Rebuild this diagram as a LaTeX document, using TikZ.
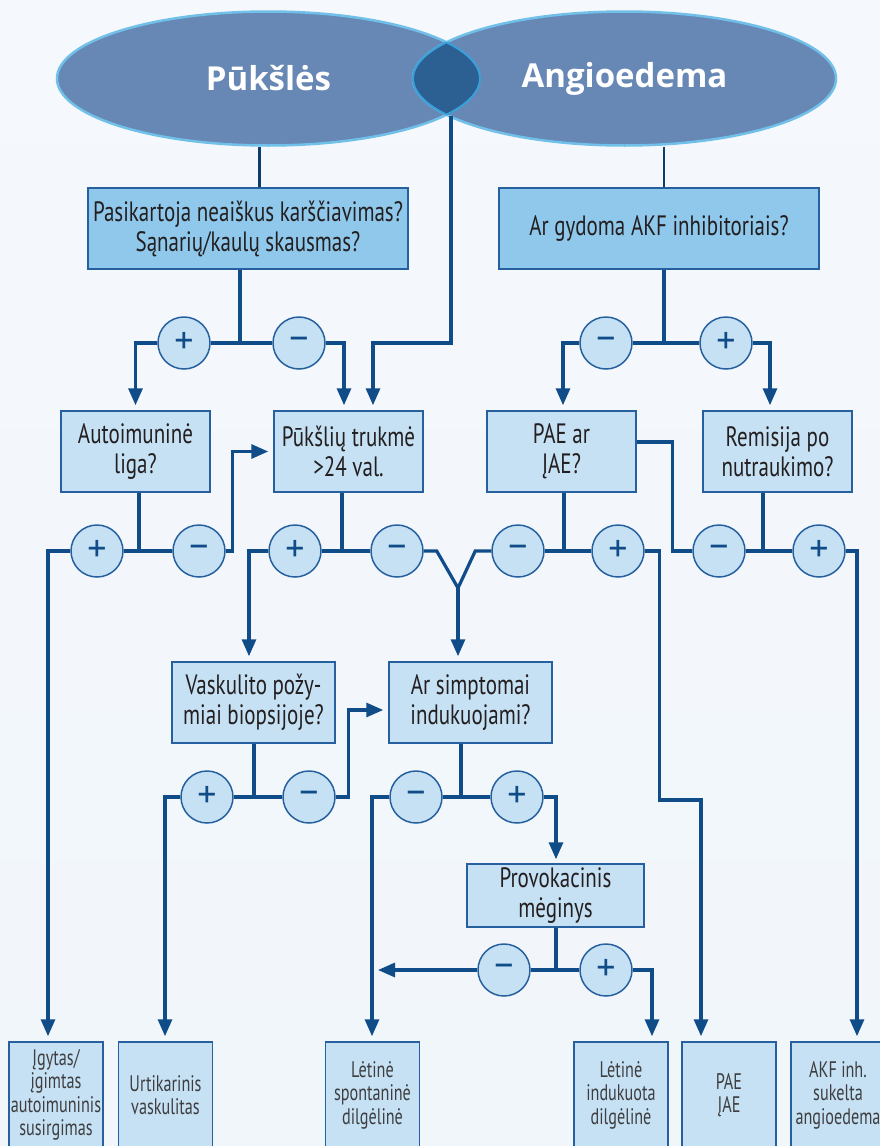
\documentclass[tikz,border=0pt]{standalone}
\usepackage{fontspec}
\setmainfont{PT Sans}[FakeStretch=0.75]
\newfontfamily\endfont{PT Sans}[FakeStretch=0.72]
\newfontfamily\signfont{PT Sans}
\newfontfamily\titlefont{Open Sans}
\usetikzlibrary{arrows.meta,shapes.geometric}

\definecolor{linkblue}{RGB}{16,76,136}
\definecolor{boxline}{RGB}{38,96,158}
\definecolor{boxlight}{RGB}{198,225,244}
\definecolor{boxdark}{RGB}{143,200,235}
\definecolor{ellfill}{RGB}{103,136,180}
\definecolor{ellrim}{RGB}{112,192,234}
\definecolor{lensfill}{RGB}{44,95,146}
\definecolor{lensrim}{RGB}{58,160,218}
\definecolor{txt}{RGB}{35,31,32}
\definecolor{txtlight}{RGB}{62,62,64}
\definecolor{bgtop}{RGB}{245,248,252}
\definecolor{bgbot}{RGB}{241,246,251}

\begin{document}
\begin{tikzpicture}[x=1pt, y=-1pt,
    link/.style={draw=linkblue, line width=3.2pt},
    thinlink/.style={draw=linkblue!80!black, line width=2.4pt},
    arr/.style={link, -{Triangle[length=17pt,width=14pt]}},
    qbox/.style={draw=boxline, line width=1.5pt, fill=boxlight, align=center,
        inner sep=0pt, minimum width=149pt, minimum height=81pt,
        font=\fontsize{28}{30}\selectfont, text=txt},
    topbox/.style={qbox, fill=boxdark, minimum width=320pt},
    endbox/.style={qbox, minimum width=94pt, minimum height=106pt,
        font=\endfont\fontsize{22.5}{23.5}\selectfont, text=txtlight},
    sign/.style={circle, draw=boxline, line width=1.5pt, fill=boxlight,
        minimum size=52pt, inner sep=0pt, text=linkblue,
        font=\signfont\fontsize{38}{38}\selectfont},
    ell/.style={ellipse, fill=ellfill, draw=ellrim, line width=2.5pt,
        minimum width=423pt, minimum height=134pt, inner sep=0pt, text=white,
        font=\titlefont\bfseries\fontsize{33}{33}\selectfont}]

    % background
    \shade[top color=bgtop, middle color=white, bottom color=bgbot] (0,0) rectangle (880,1146);
    \useasboundingbox (0,0) rectangle (880,1146);
    \clip (0,0) rectangle (880,1146);

    % two ellipses and their overlap
    \node[ell] (pu) at (268.5,78.5) {Pūkšlės};
    \node[ell] (an) at (624.5,78.5) {Angioedema};
    \begin{scope}
        \clip (pu.center) ellipse [x radius=211.5pt, y radius=67pt];
        \fill[lensfill] (an.center) ellipse [x radius=211.5pt, y radius=67pt];
        \draw[lensrim, line width=2pt] (an.center) ellipse [x radius=211.5pt, y radius=67pt];
    \end{scope}
    \begin{scope}
        \clip (an.center) ellipse [x radius=211.5pt, y radius=67pt];
        \draw[lensrim, line width=2pt] (pu.center) ellipse [x radius=211.5pt, y radius=67pt];
    \end{scope}
    \coordinate (lensbot) at (451,116);

    % questions
    \node[topbox] (q1) at (248,228.5) {Pasikartoja neaiškus karščiavimas?\\Sąnarių/kaulų skausmas?};
    \node[topbox] (q2) at (659,228.5) {Ar gydoma AKF inhibitoriais?};
    \node[qbox] (a1) at (135.5,451.5) {Autoimuninė\\liga?};
    \node[qbox] (d1) at (348.5,451.5) {Pūkšlių trukmė\\>24 val.};
    \node[qbox] (pae) at (561.5,451.5) {PAE ar\\ĮAE?};
    \node[qbox] (rem) at (777.5,451.5) {Remisija po\\nutraukimo?};
    \node[qbox, minimum width=163pt] (vask) at (253.5,702.5) {Vaskulito požy-\\miai biopsijoje?};
    \node[qbox, minimum width=163pt] (ars) at (470.5,702.5) {Ar simptomai\\indukuojami?};
    \node[qbox, minimum width=177pt, minimum height=63pt] (prov) at (555.5,895.5) {Provokacinis\\mėginys};

    % outcomes
    \node[endbox] (b1) at (56,1095) {Įgytas/\\įgimtas\\autoimuninis\\susirgimas};
    \node[endbox] (b2) at (165.5,1095) {Urtikarinis\\vaskulitas};
    \node[endbox] (b3) at (372.5,1095) {Lėtinė\\spontaninė\\dilgėlinė};
    \node[endbox] (b4) at (621,1095) {Lėtinė\\indukuota\\dilgėlinė};
    \node[endbox] (b5) at (729,1095) {PAE\\ĮAE};
    \node[endbox] (b6) at (838,1095) {AKF inh.\\sukelta\\angioedema};

    % answers
    \node[sign] (c1p) at (184,343) {+};
    \node[sign] (c1m) at (299,343) {–};
    \node[sign] (c2m) at (606,343) {–};
    \node[sign] (c2p) at (726,343) {+};
    \node[sign] (c3p) at (97,551) {+};
    \node[sign] (c3m) at (199,551) {–};
    \node[sign] (c4p) at (295,551) {+};
    \node[sign] (c4m) at (397,551) {–};
    \node[sign] (c5m) at (518,551) {–};
    \node[sign] (c5p) at (618,551) {+};
    \node[sign] (c6m) at (719,551) {–};
    \node[sign] (c6p) at (819,551) {+};
    \node[sign] (c7p) at (207,797) {+};
    \node[sign] (c7m) at (309,797) {–};
    \node[sign] (c8m) at (416,797) {–};
    \node[sign] (c8p) at (517,797) {+};
    \node[sign] (c9m) at (504,970) {–};
    \node[sign] (c9p) at (606,970) {+};

    % junctions
    \coordinate (j1) at (240,343);
    \coordinate (j2) at (664,343);
    \coordinate (j3) at (139,551);
    \coordinate (j4) at (342,551);
    \coordinate (j5) at (564,551);
    \coordinate (j6) at (763,551);
    \coordinate (j7) at (254,797);
    \coordinate (j8) at (461,797);
    \coordinate (j9) at (556,970);
    \coordinate (yv) at (458,588);
    \coordinate (arsin) at ([xshift=-12.5pt,yshift=5pt]ars.north);
    \coordinate (d1in) at ([xshift=24.5pt,yshift=5pt]d1.north);
    \coordinate (lsd) at ([xshift=5.5pt]b3.north);

    % from the ellipses
    \draw[thinlink] ([xshift=-9pt]pu.south) -- ([xshift=11.5pt]q1.north);
    \draw[thinlink] ([xshift=39.5pt]an.south) -- ([xshift=5pt]q2.north);
    \draw[arr] (lensbot) -- (lensbot |- j1) -| (d1in);

    % first row
    \draw[link] (q1.south -| j1) -- (j1);
    \draw[link] (c1p.east) -- (c1m.west);
    \draw[arr] (c1p.west) -| ([yshift=5pt]a1.north);
    \draw[arr] (c1m.east) -| ([xshift=-4.5pt,yshift=5pt]d1.north);
    \draw[link] (q2.south -| j2) -- (j2);
    \draw[link] (c2m.east) -- (c2p.west);
    \draw[arr] (c2m.west) -| ([xshift=1.5pt,yshift=5pt]pae.north);
    \draw[arr] (c2p.east) -| ([xshift=-7.5pt,yshift=5pt]rem.north);

    % second row
    \draw[link] (a1.south -| j3) -- (j3);
    \draw[link] (c3p.east) -- (c3m.west);
    \draw[arr] (c3p.west) -| ([xshift=-8pt,yshift=5pt]b1.north);
    \draw[arr] (c3m.east) -- ++(7,0) |- ([xshift=-5pt]d1.west);
    \draw[link] (d1.south -| j4) -- (j4);
    \draw[link] (c4p.east) -- (c4m.west);
    \draw[arr] (c4p.west) -| ([xshift=-4.5pt,yshift=5pt]vask.north);
    \draw[link] (c4m.east) -- ++(13,0) -- (yv);
    \draw[link] (c5m.west) -- ++(-16,0) -- (yv);
    \draw[arr] (yv) -- (arsin);
    \draw[link] (pae.south -| j5) -- (j5);
    \draw[link] (c5m.east) -- (c5p.west);
    \draw[arr] (c5p.east) -- ++(15,0) -- ++(0,249) -| ([xshift=-28pt,yshift=5pt]b5.north);
    \draw[link] (rem.south -| j6) -- (j6);
    \draw[link] (c6m.east) -- (c6p.west);
    \draw[link] (c6m.west) -- ++(-20,0) |- ([yshift=9.5pt]pae.east);
    \draw[arr] (c6p.east) -| ([xshift=19pt,yshift=5pt]b6.north);

    % third row
    \draw[link] (vask.south -| j7) -- (j7);
    \draw[link] (c7p.east) -- (c7m.west);
    \draw[arr] (c7p.west) -| ([xshift=-0.5pt,yshift=5pt]b2.north);
    \draw[arr] (c7m.east) -- ++(13,0) |- ([xshift=-5pt,yshift=-7.5pt]ars.west);
    \draw[link] (ars.south -| j8) -- (j8);
    \draw[link] (c8m.east) -- (c8p.west);
    \draw[arr] (c8m.west) -| ([xshift=-0.5pt,yshift=5pt]b3.north);
    \draw[arr] (c8p.east) -| ([xshift=0.5pt,yshift=4pt]prov.north);

    % provocation test
    \draw[link] (prov.south -| j9) -- (j9);
    \draw[link] (c9m.east) -- (c9p.west);
    \draw[arr] (c9m.west) -- (c9m.west -| lsd);
    \draw[arr] (c9p.east) -| ([xshift=31pt,yshift=5pt]b4.north);
\end{tikzpicture}
\end{document}
